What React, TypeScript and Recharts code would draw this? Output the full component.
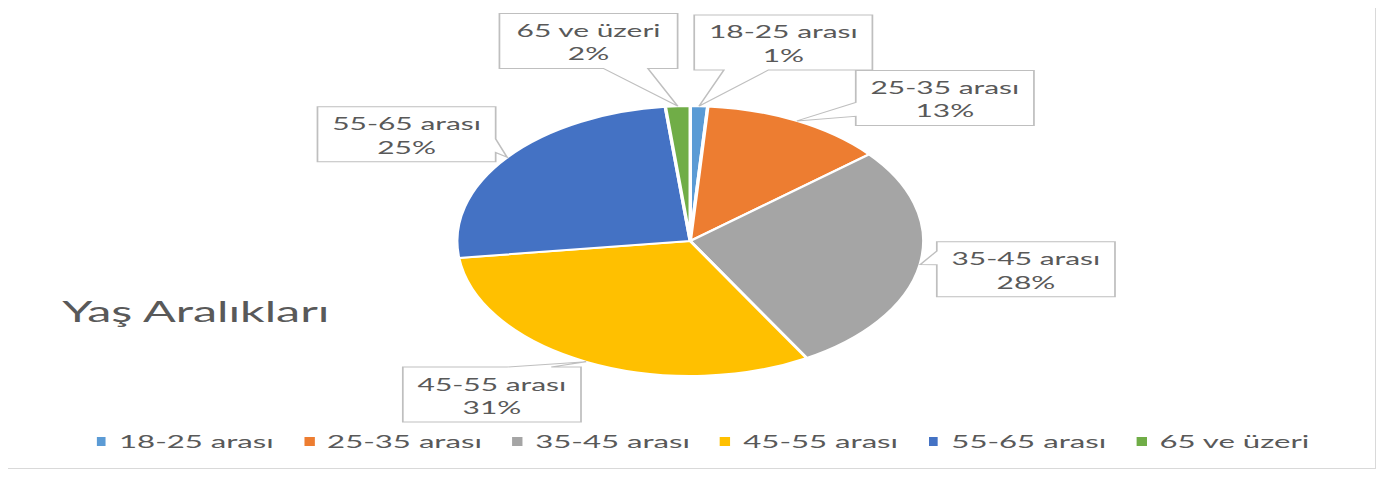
import React from 'react';
import { PieChart, Pie, Cell, Legend } from 'recharts';

const categories = ['18-25 arası', '25-35 arası', '35-45 arası', '45-55 arası', '55-65 arası', '65 ve üzeri'];
const values = [1.2, 12.7, 27.8, 31.3, 25.3, 1.7];
const colors = ['#5B9BD5', '#ED7D31', '#A5A5A5', '#FFC000', '#4472C4', '#70AD47'];

// layout: callout box centre offsets from each slice's edge point (inner, unscaled units)
const calloutOffsets: [number, number][] = [
  [48.7, -63.6],
  [85.5, -23],
  [61.1, 4.7],
  [-54.5, 32.7],
  [-58.1, -23],
  [-51.6, -65.2],
];

const data = categories.map((name, i) => ({ name, value: values[i] }));

const SX = 1.73;
const W = 1388 / SX;
const H = 477;
const BOX_W = 103;
const BOX_H = 55;
const FONT = 'Lato, "Liberation Sans", sans-serif';
const TEXT = '#595959';

function Callout(props: any) {
  const { cx, cy, midAngle, outerRadius, index, percent } = props;
  const RAD = Math.PI / 180;
  const tx = cx + outerRadius * Math.cos(-midAngle * RAD);
  const ty = cy + outerRadius * Math.sin(-midAngle * RAD);
  const [ox, oy] = calloutOffsets[index];
  const bx = tx + ox;
  const by = ty + oy;
  const w = BOX_W, h = BOX_H;
  const l = bx - w / 2, t = by - h / 2, r = l + w, b = t + h;
  const dx = tx - bx, dy = ty - by;
  const dz = Math.abs(dy) - (Math.abs(dx) * h) / w;
  let path = '';
  if (dz > 0) {
    const x1 = l + (w * (dx > 0 ? 7 : 2)) / 12;
    const x2 = l + (w * (dx > 0 ? 10 : 5)) / 12;
    if (dy < 0) path = `M${l},${t} L${x1},${t} L${tx},${ty} L${x2},${t} L${r},${t} L${r},${b} L${l},${b} Z`;
    else path = `M${l},${t} L${r},${t} L${r},${b} L${x2},${b} L${tx},${ty} L${x1},${b} L${l},${b} Z`;
  } else {
    const y1 = t + (h * (dy > 0 ? 7 : 2)) / 12;
    const y2 = t + (h * (dy > 0 ? 10 : 5)) / 12;
    if (dx < 0) path = `M${l},${t} L${r},${t} L${r},${b} L${l},${b} L${l},${y2} L${tx},${ty} L${l},${y1} Z`;
    else path = `M${l},${t} L${r},${t} L${r},${y1} L${tx},${ty} L${r},${y2} L${r},${b} L${l},${b} Z`;
  }
  const pct = Math.round(percent * 100) + '%';
  return (
    <g>
      <path d={path} fill="#ffffff" stroke="#bfbfbf" strokeWidth={1} />
      <text x={bx} y={t + 23.5} textAnchor="middle" fill={TEXT} fontSize={17.3} fontFamily={FONT}>
        {categories[index]}
      </text>
      <text x={bx} y={t + 47} textAnchor="middle" fill={TEXT} fontSize={17.3} fontFamily={FONT}>
        {pct}
      </text>
    </g>
  );
}

function LegendContent(props: any) {
  const payload = props.payload || [];
  return (
    <div style={{ display: 'flex', justifyContent: 'center', paddingLeft: 10, fontFamily: FONT, fontSize: 18, color: TEXT, lineHeight: '18px' }}>
      {payload.map((p: any, i: number) => (
        <div key={i} style={{ display: 'flex', alignItems: 'center', marginRight: i < payload.length - 1 ? 17.5 : 0 }}>
          <span style={{ display: 'inline-block', width: 5.8, height: 9, background: p.color, marginRight: 7.5 }} />
          <span>{p.value}</span>
        </div>
      ))}
    </div>
  );
}

export default function App() {
  return (
    <div style={{ position: 'relative', width: 1388, height: 477, margin: -8, overflow: 'hidden', background: '#fff' }}>
      <div style={{ position: 'absolute', left: 5, top: 3, width: 1371, height: 466, border: '1px solid #d9d9d9', boxSizing: 'border-box' }} />
      <div style={{ position: 'absolute', left: 0, top: 0, width: W, height: H, transform: `scaleX(${SX})`, transformOrigin: 'left top' }}>
        <div style={{ position: 'absolute', left: 36, top: 297, fontFamily: FONT, fontSize: 28, lineHeight: '28px', color: TEXT, whiteSpace: 'nowrap' }}>
          Yaş Aralıkları
        </div>
        <PieChart width={W} height={H} margin={{ top: 0, right: 0, bottom: 0, left: 0 }}>
          <Pie
            data={data}
            dataKey="value"
            nameKey="name"
            cx={399}
            cy={241}
            outerRadius={135}
            startAngle={90}
            endAngle={-270}
            stroke="#ffffff"
            strokeWidth={2}
            isAnimationActive={false}
            labelLine={false}
            label={Callout}
          >
            {data.map((d, i) => (
              <Cell key={d.name} fill={colors[i]} />
            ))}
          </Pie>
          <Legend
            content={LegendContent}
            wrapperStyle={{ position: 'absolute', left: 0, top: 432, bottom: 'auto', width: W }}
          />
        </PieChart>
      </div>
    </div>
  );
}
